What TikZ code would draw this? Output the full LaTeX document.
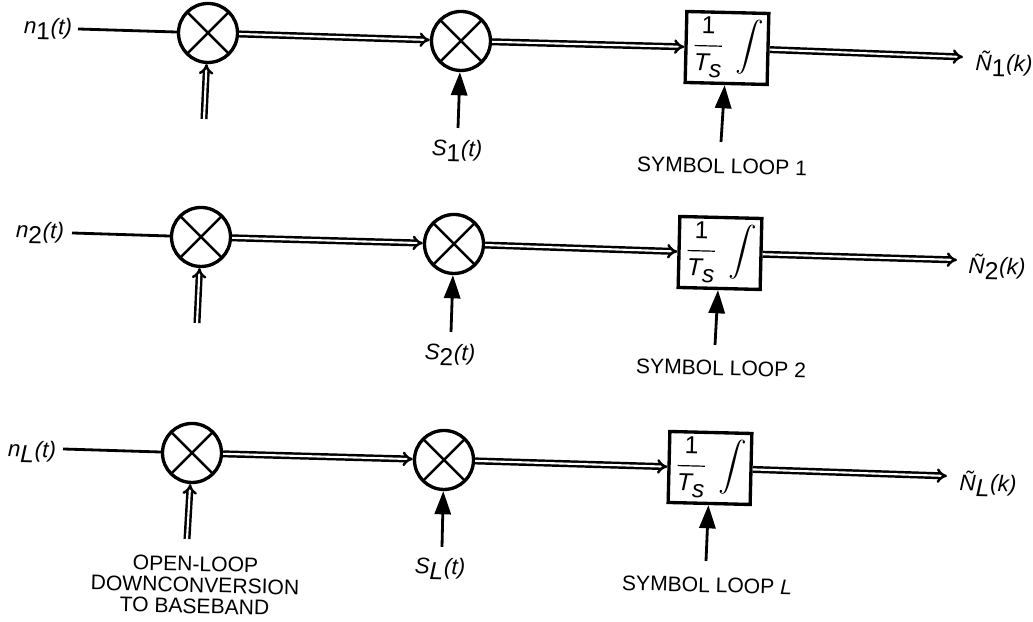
\documentclass[tikz,border=0pt]{standalone}
\usepackage{fontspec}
\setmainfont{Liberation Sans}
\usepackage{amsmath}
\usepackage{tikz}
\usetikzlibrary{arrows.meta, positioning}
\newcommand{\sigsub}[3]{\textit{#1\raisebox{-0.5ex}{\fontsize{7}{8}\selectfont\textup{#2}}\kern0.2pt(#3)}}
\newcommand{\sigsubL}[3]{\textit{#1\raisebox{-0.5ex}{\fontsize{7}{8}\selectfont #2}\kern0.2pt(#3)}}
\newcommand{\intgr}{$\dfrac{\text{1}}{\textit{T\raisebox{-0.55ex}{s}}}\,\displaystyle\int$}
\tikzset{
  mixnode/.style={circle,draw=black,line width=0.95pt,minimum size=5.9mm,inner sep=0pt,fill=white,
    path picture={\draw[line width=0.7pt] (path picture bounding box.north west) -- (path picture bounding box.south east)
      (path picture bounding box.south west) -- (path picture bounding box.north east);}},
  intnode/.style={rectangle,draw=black,line width=0.95pt,minimum width=8.2mm,minimum height=7.1mm,inner sep=0pt,rotate=-1.4,
    font=\fontsize{7}{8}\selectfont},
  siglbl/.style={inner sep=0pt,rotate=-1.4,font=\fontsize{6.4}{8}\selectfont},
  caplbl/.style={inner sep=0pt,rotate=-1.4,align=center,font=\fontsize{6}{6}\selectfont},
  plainedge/.style={line width=0.8pt},
  dbledge/.style={line width=0.7pt,double,double distance=0.6pt,-{Implies[length=4.6pt,width=7.6pt]}},
  solidedge/.style={line width=0.8pt,-{Stealth[length=6.6pt,width=4.6pt,inset=0pt]}},
}
\begin{document}
\begin{tikzpicture}
  \useasboundingbox (0,0) rectangle (10.33,6.22);
  % channel 1
  \node[siglbl] (lblN1) at (0.48,5.93) {\sigsub{n}{1}{t}};
  \coordinate (inA) at (0.78,5.93);
  \node[mixnode] (mixA1) at (2.08,5.89) {};
  \node[mixnode] (mixB1) at (4.61,5.81) {};
  \node[intnode] (int1) at (7.27,5.74) {\intgr};
  \coordinate (out1) at (9.63,5.65);
  \coordinate (lo1) at (2.04,5.03);
  \node[siglbl] (lblS1) at (4.57,4.71) {\sigsub{S}{1}{t}};
  \coordinate (sa1) at (4.58,4.94);
  \coordinate (sb1) at (7.21,4.80);
  \node[caplbl] (lblLoop1) at (7.22,4.56) {SYMBOL LOOP 1};
  \node[siglbl] (lblOut1) at (10.04,5.58) {\sigsub{\~N}{1}{k}};
  \draw[plainedge] (inA) -- (mixA1);
  \draw[dbledge] (mixA1) -- (mixB1);
  \draw[dbledge] (mixB1) -- (int1);
  \draw[dbledge] (int1) -- (out1);
  \draw[dbledge] (lo1) -- (mixA1);
  \draw[solidedge] (sa1) -- (mixB1);
  \draw[solidedge] (sb1) -- (int1);
  % channel 2
  \node[siglbl] (lblN2) at (0.40,3.89) {\sigsub{n}{2}{t}};
  \coordinate (inB) at (0.72,3.89);
  \node[mixnode] (mixA2) at (2.01,3.85) {};
  \node[mixnode] (mixB2) at (4.54,3.78) {};
  \node[intnode] (int2) at (7.20,3.69) {\intgr};
  \coordinate (out2) at (9.57,3.62);
  \coordinate (lo2) at (1.97,2.99);
  \node[siglbl] (lblS2) at (4.50,2.67) {\sigsub{S}{2}{t}};
  \coordinate (sa2) at (4.51,2.90);
  \coordinate (sb2) at (7.15,2.77);
  \node[caplbl] (lblLoop2) at (7.21,2.54) {SYMBOL LOOP 2};
  \node[siglbl] (lblOut2) at (9.97,3.55) {\sigsub{\~N}{2}{k}};
  \draw[plainedge] (inB) -- (mixA2);
  \draw[dbledge] (mixA2) -- (mixB2);
  \draw[dbledge] (mixB2) -- (int2);
  \draw[dbledge] (int2) -- (out2);
  \draw[dbledge] (lo2) -- (mixA2);
  \draw[solidedge] (sa2) -- (mixB2);
  \draw[solidedge] (sb2) -- (int2);
  % channel L
  \node[siglbl] (lblN3) at (0.32,1.70) {\sigsubL{n}{L}{t}};
  \coordinate (inC) at (0.63,1.73);
  \node[mixnode] (mixA3) at (1.92,1.69) {};
  \node[mixnode] (mixB3) at (4.44,1.62) {};
  \node[intnode] (int3) at (7.10,1.54) {\intgr};
  \coordinate (out3) at (9.47,1.46);
  \coordinate (lo3) at (1.87,0.83);
  \node[caplbl] (lblDown) at (1.95,0.37) {OPEN-LOOP\\DOWNCONVERSION\\TO BASEBAND};
  \node[siglbl] (lblS3) at (4.40,0.53) {\sigsubL{S}{L}{t}};
  \coordinate (sa3) at (4.42,0.75);
  \coordinate (sb3) at (7.06,0.61);
  \node[caplbl] (lblLoop3) at (7.07,0.37) {SYMBOL LOOP \textit{L}};
  \node[siglbl] (lblOut3) at (9.88,1.38) {\sigsubL{\~N}{L}{k}};
  \draw[plainedge] (inC) -- (mixA3);
  \draw[dbledge] (mixA3) -- (mixB3);
  \draw[dbledge] (mixB3) -- (int3);
  \draw[dbledge] (int3) -- (out3);
  \draw[dbledge] (lo3) -- (mixA3);
  \draw[solidedge] (sa3) -- (mixB3);
  \draw[solidedge] (sb3) -- (int3);
\end{tikzpicture}
\end{document}
